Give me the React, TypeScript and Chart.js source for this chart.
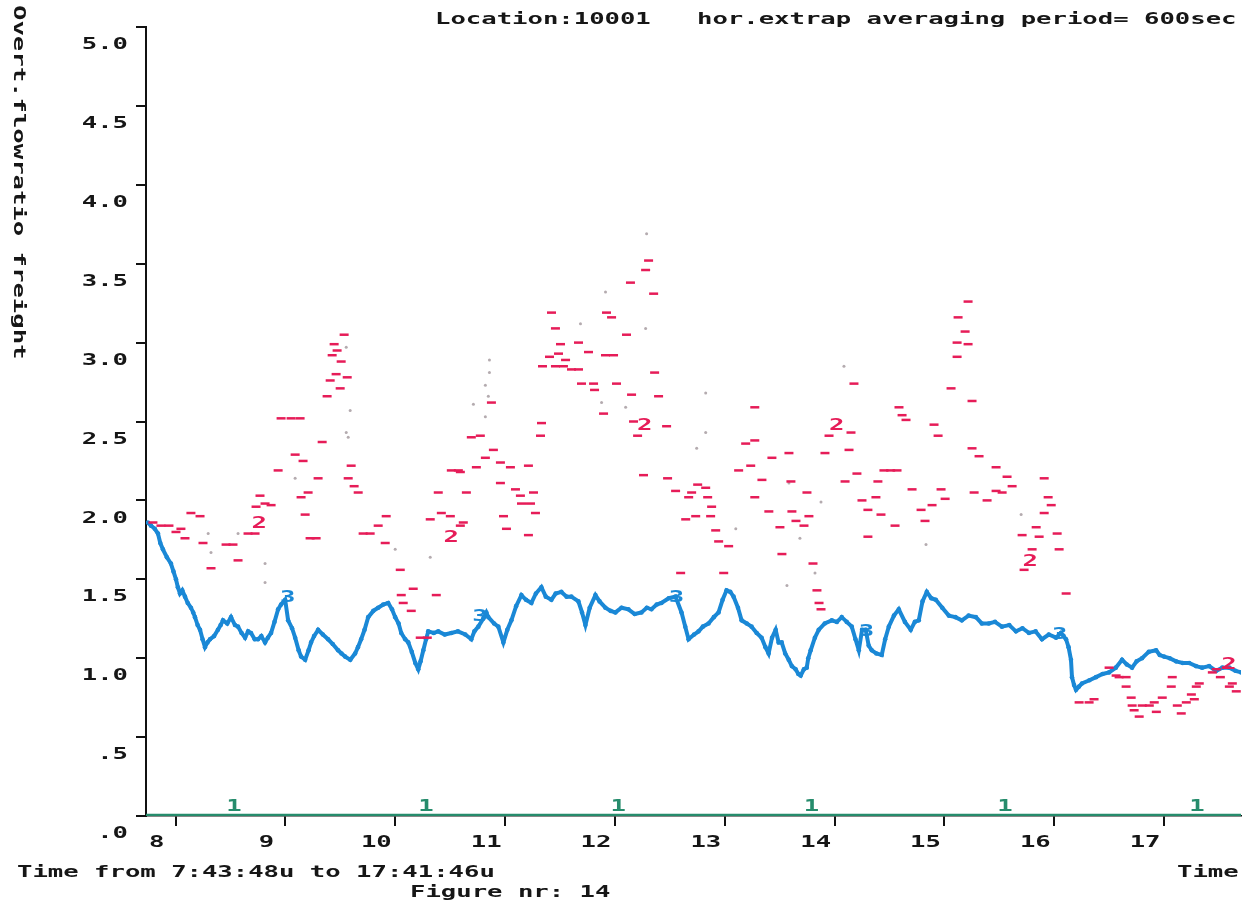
import React, { useEffect, useRef } from 'react';
import { Chart, registerables } from 'chart.js';

Chart.register(...registerables);

// ---- axis ticks / labels ----
const HOUR_TICKS = [8, 9, 10, 11, 12, 13, 14, 15, 16, 17];
const HOUR_LABELS = ['8', '9', '10', '11', '12', '13', '14', '15', '16', '17'];
const VALUE_TICKS = [0, 0.5, 1, 1.5, 2, 2.5, 3, 3.5, 4, 4.5, 5];
const VALUE_LABELS = ['.0', '.5', '1.0', '1.5', '2.0', '2.5', '3.0', '3.5', '4.0', '4.5', '5.0'];
const TIME_MIN = 7.73; // 7:43:48
const TIME_MAX = 17.70; // 17:41:46

const TITLE = 'Location:10001   hor.extrap averaging period= 600sec';
const Y_TITLE = 'Overt.flowratio freight';
const X_RANGE_TEXT = 'Time from 7:43:48u to 17:41:46u';
const FIGURE_TEXT = 'Figure nr: 14';
const X_TITLE = 'Time';

// ---- series 1 (green, near zero) ----
const S1_TIMES = [7.73, 8, 9, 10, 11, 12, 13, 14, 15, 16, 17, 17.7];
const S1_VALUES = [0.005, 0.005, 0.005, 0.005, 0.005, 0.005, 0.005, 0.005, 0.005, 0.005, 0.005, 0.005];
const S1_MARK_TIMES = [8.53, 10.28, 12.03, 13.79, 15.55, 17.3];

// ---- series 2 (red, scattered dashes) ----
const S2_TIMES = [
  7.793, 7.866, 7.939, 8.003, 8.048, 8.085, 8.139, 8.222, 8.249, 8.322, 8.459, 8.522, 8.568, 8.659, 8.723,
  8.732, 8.814, 8.869, 8.933, 8.768, 8.96, 9.051, 9.133, 9.088, 9.16, 9.179, 9.224, 9.279, 9.142, 9.206,
  9.297, 9.334, 9.379, 9.407, 9.425, 9.443, 9.461, 9.47, 9.498, 9.507, 9.534, 9.562, 9.598, 9.571, 9.625,
  9.662, 9.707, 9.771, 9.844, 9.917, 9.908, 10.045, 10.054, 10.072, 10.145, 10.163, 10.227, 10.291, 10.318,
  10.419, 10.501, 10.592, 10.619, 10.373, 10.391, 10.51, 10.574, 10.647, 10.592, 10.692, 10.774, 10.738,
  10.82, 10.875, 10.893, 10.957, 10.957, 10.985, 11.012, 11.048, 11.094, 11.139, 11.149, 11.231, 11.212,
  11.212, 11.258, 11.276, 11.322, 11.331, 11.34, 11.404, 11.422, 11.458, 11.458, 11.531, 11.486, 11.504,
  11.55, 11.604, 11.668, 11.668, 11.695, 11.805, 11.759, 11.814, 11.896, 11.914, 11.987, 11.923, 11.969,
  12.014, 12.105, 12.141, 12.151, 12.169, 12.206, 12.279, 12.306, 12.352, 12.361, 12.397, 12.47, 12.26,
  12.479, 12.552, 12.598, 12.644, 12.735, 12.671, 12.698, 12.753, 12.826, 12.844, 12.871, 12.88, 12.917,
  12.944, 13.035, 12.99, 13.126, 13.236, 13.19, 13.273, 13.273, 13.273, 13.338, 13.401, 13.429, 13.502,
  13.52, 13.584, 13.602, 13.611, 13.648, 13.721, 13.748, 13.766, 13.803, 13.839, 13.858, 13.876, 13.912,
  13.949, 14.095, 14.131, 14.149, 14.176, 14.203, 14.249, 14.303, 14.303, 14.376, 14.394, 14.422, 14.449,
  14.51, 14.568, 14.55, 14.586, 14.614, 14.65, 14.705, 14.787, 14.823, 14.887, 14.905, 14.942, 14.969,
  15.006, 15.06, 15.115, 15.115, 15.215, 15.124, 15.188, 15.215, 15.251, 15.251, 15.27, 15.315, 15.388,
  15.47, 15.47, 15.525, 15.57, 15.616, 15.707, 15.725, 15.835, 15.908, 15.944, 15.972, 15.908, 15.862,
  16.026, 15.798, 16.044, 16.108, 16.226, 16.317, 16.362, 16.499, 16.563, 16.59, 16.654, 16.654, 16.7,
  16.709, 16.727, 16.773, 16.801, 16.865, 16.91, 16.929, 16.983, 17.065, 17.074, 17.12, 17.156, 17.202,
  17.248, 17.275, 17.32, 17.439, 17.475, 17.566, 17.594, 17.621, 17.657, 17.512, 17.293,
];
const S2_VALUES = [
  1.86, 1.84, 1.84, 1.8, 1.82, 1.76, 1.92, 1.9, 1.73, 1.57, 1.72, 1.72, 1.62, 1.79, 1.79,
  1.96, 1.98, 1.97, 2.19, 2.03, 2.52, 2.52, 2.52, 2.29, 2.25, 1.91, 1.76, 1.76, 2.02, 2.05,
  2.14, 2.37, 2.66, 2.76, 2.92, 2.99, 2.8, 2.95, 2.71, 2.88, 3.05, 2.78, 2.22, 2.14, 2.09,
  2.05, 1.79, 1.79, 1.84, 1.9, 1.73, 1.56, 1.4, 1.35, 1.3, 1.44, 1.13, 1.13, 1.88,
  1.92, 1.9, 1.84, 1.86, 1.4, 2.05, 2.19, 2.19, 2.05, 2.18, 2.4, 2.41, 2.21,
  2.27, 2.62, 2.32, 2.24, 2.11, 1.9, 1.82, 2.21, 2.07, 2.03, 1.98, 1.98, 2.22,
  1.78, 2.05, 1.92, 2.41, 2.49, 2.85, 2.91, 3.19, 3.09, 2.85, 2.85, 2.93, 2.99,
  2.89, 2.83, 2.83, 3.0, 2.74, 2.74, 2.94, 2.7, 2.55, 2.92, 2.92, 3.19, 3.16,
  2.74, 3.05, 3.38, 2.67, 2.5, 2.41, 3.46, 3.52, 3.31, 2.81, 2.66, 2.47, 2.16,
  2.14, 2.06, 1.54, 1.88, 1.9, 2.02, 2.05, 2.1, 2.08, 2.02, 1.9, 1.96, 1.81,
  1.74, 1.71, 1.54, 2.19, 2.22, 2.36, 2.38, 2.02, 2.59, 2.13, 1.93, 2.27, 1.83,
  1.66, 2.3, 2.12, 1.93, 1.87, 1.84, 2.05, 1.9, 1.6, 1.43, 1.35, 1.31, 2.3,
  2.41, 2.12, 2.32, 2.43, 2.74, 2.17, 2.0, 1.94, 1.77, 2.02, 2.12, 1.91, 2.19,
  2.19, 2.19, 1.84, 2.59, 2.54, 2.51, 2.07, 1.94, 1.87, 1.97, 2.48, 2.41, 2.07,
  2.01, 2.71, 2.91, 3.0, 2.99, 3.16, 3.07, 3.26, 2.63, 2.33, 2.05, 2.28, 2.0,
  2.21, 2.06, 2.05, 2.15, 2.09, 1.78, 1.56, 1.83, 2.14, 2.02, 1.97, 1.92, 1.77,
  1.79, 1.69, 1.69, 1.41, 0.72, 0.72, 0.74, 0.94, 0.89, 0.88, 0.88, 0.82, 0.75,
  0.7, 0.67, 0.63, 0.7, 0.7, 0.72, 0.66, 0.75, 0.82, 0.88, 0.7, 0.65, 0.72,
  0.77, 0.74, 0.84, 0.91, 0.93, 0.94, 0.82, 0.84, 0.79, 0.88, 0.82,
];
const S2_MARK_TIMES = [8.76, 10.51, 12.27, 14.02, 15.78, 17.59];
const S2_MARK_VALUES = [1.85, 1.76, 2.47, 2.47, 1.61, 0.96];

// ---- faint grey measurement dots ----
const GREY_TIMES = [
  12.288, 11.914, 11.686, 12.279, 10.857, 10.857, 10.82, 10.847, 10.711, 10.82, 11.878, 12.097, 12.826,
  12.826, 12.744, 13.1, 14.085, 14.832, 15.698, 9.553, 9.589, 9.553, 9.571, 9.088, 10.318, 9.999, 8.568,
  8.296, 8.322, 8.814, 8.814, 13.584, 13.876, 13.566, 13.821, 13.684,
];
const GREY_VALUES = [
  3.69, 3.32, 3.12, 3.09, 2.89, 2.81, 2.73, 2.66, 2.61, 2.53, 2.62, 2.59, 2.68,
  2.43, 2.33, 1.82, 2.85, 1.72, 1.91, 2.97, 2.57, 2.43, 2.4, 2.14, 1.64, 1.69, 1.79,
  1.79, 1.67, 1.6, 1.48, 2.11, 1.99, 1.46, 1.54, 1.76,
];

// ---- series 3 (blue, continuous) ----
const S3_TIMES = [
  7.747, 7.775, 7.81, 7.839, 7.86, 7.884, 7.92, 7.957, 7.98, 8.003, 8.02, 8.039, 8.06, 8.085, 8.11, 8.139,
  8.16, 8.176, 8.2, 8.222, 8.245, 8.267, 8.29, 8.313, 8.35, 8.385, 8.41, 8.431, 8.47, 8.504, 8.54, 8.568,
  8.6, 8.632, 8.66, 8.686, 8.72, 8.75, 8.78, 8.814, 8.84, 8.869, 8.9, 8.933, 8.96, 8.997, 9.024, 9.06,
  9.088, 9.12, 9.142, 9.179, 9.21, 9.233, 9.26, 9.297, 9.34, 9.388, 9.43, 9.479, 9.51, 9.543, 9.59, 9.634,
  9.66, 9.689, 9.72, 9.753, 9.8, 9.844, 9.89, 9.935, 9.97, 9.999, 10.03, 10.054, 10.09, 10.118, 10.15,
  10.182, 10.209, 10.23, 10.255, 10.28, 10.3, 10.35, 10.391, 10.45, 10.51, 10.57, 10.637, 10.692, 10.72,
  10.756, 10.8, 10.829, 10.847, 10.9, 10.938, 10.984, 11.02, 11.057, 11.1, 11.148, 11.19, 11.239, 11.28,
  11.33, 11.37, 11.421, 11.46, 11.512, 11.56, 11.603, 11.667, 11.7, 11.731, 11.77, 11.822, 11.86, 11.913,
  11.96, 12.004, 12.06, 12.122, 12.18, 12.241, 12.29, 12.332, 12.38, 12.423, 12.49, 12.551, 12.606, 12.64,
  12.67, 12.72, 12.761, 12.8, 12.852, 12.9, 12.943, 12.98, 13.016, 13.05, 13.08, 13.12, 13.153, 13.2,
  13.244, 13.29, 13.335, 13.37, 13.399, 13.43, 13.463, 13.49, 13.518, 13.55, 13.582, 13.61, 13.645, 13.67,
  13.691, 13.72, 13.746, 13.76, 13.782, 13.82, 13.855, 13.91, 13.974, 14.02, 14.065, 14.11, 14.156, 14.19,
  14.22, 14.25, 14.283, 14.31, 14.338, 14.38, 14.429, 14.46, 14.493, 14.54, 14.584, 14.64, 14.693, 14.73,
  14.766, 14.8, 14.839, 14.88, 14.921, 14.98, 15.04, 15.1, 15.158, 15.22, 15.286, 15.34, 15.404, 15.46,
  15.523, 15.59, 15.651, 15.71, 15.769, 15.83, 15.888, 15.95, 16.016, 16.06, 16.107, 16.13, 16.152, 16.161,
  16.18, 16.198, 16.225, 16.252, 16.32, 16.38, 16.44, 16.499, 16.56, 16.617, 16.66, 16.708, 16.75, 16.799,
  16.86, 16.927, 16.96, 17.0, 17.05, 17.109, 17.17, 17.228, 17.29, 17.346, 17.41, 17.474, 17.53, 17.593,
  17.65, 17.702,
];
const S3_VALUES = [
  1.86, 1.84, 1.82, 1.79, 1.73, 1.69, 1.64, 1.6, 1.55, 1.5, 1.45, 1.41, 1.43, 1.39, 1.35, 1.32,
  1.29, 1.26, 1.21, 1.18, 1.12, 1.07, 1.1, 1.12, 1.14, 1.18, 1.21, 1.24, 1.22, 1.26, 1.21, 1.2,
  1.16, 1.13, 1.17, 1.16, 1.12, 1.12, 1.14, 1.1, 1.13, 1.16, 1.23, 1.31, 1.34, 1.37, 1.24, 1.19,
  1.13, 1.05, 1.01, 0.99, 1.05, 1.1, 1.14, 1.18, 1.15, 1.12, 1.09, 1.05, 1.03, 1.01, 0.99, 1.03,
  1.07, 1.12, 1.18, 1.26, 1.3, 1.32, 1.34, 1.35, 1.31, 1.26, 1.22, 1.16, 1.12, 1.1, 1.04,
  0.97, 0.93, 0.98, 1.05, 1.12, 1.17, 1.16, 1.17, 1.15, 1.16, 1.17, 1.15, 1.12, 1.17,
  1.2, 1.25, 1.29, 1.26, 1.22, 1.2, 1.1, 1.18, 1.24, 1.33, 1.4, 1.37, 1.35, 1.41,
  1.45, 1.39, 1.37, 1.41, 1.42, 1.39, 1.39, 1.36, 1.29, 1.21, 1.32, 1.4, 1.36, 1.32,
  1.3, 1.29, 1.32, 1.31, 1.28, 1.29, 1.32, 1.31, 1.34, 1.35, 1.38, 1.39, 1.29, 1.2,
  1.12, 1.15, 1.17, 1.2, 1.22, 1.26, 1.29, 1.37, 1.43, 1.42, 1.39, 1.32, 1.24, 1.22,
  1.2, 1.16, 1.13, 1.07, 1.03, 1.13, 1.18, 1.1, 1.1, 1.03, 0.99, 0.95, 0.93, 0.9,
  0.89, 0.93, 0.94, 1.0, 1.05, 1.13, 1.18, 1.22, 1.24, 1.23, 1.26, 1.23, 1.2, 1.12,
  1.05, 1.18, 1.18, 1.08, 1.05, 1.03, 1.02, 1.12, 1.2, 1.27, 1.31, 1.23, 1.18, 1.23,
  1.24, 1.36, 1.42, 1.38, 1.37, 1.32, 1.27, 1.26, 1.24, 1.27, 1.26, 1.22, 1.22, 1.23,
  1.2, 1.21, 1.17, 1.19, 1.16, 1.17, 1.12, 1.15, 1.13, 1.16, 1.12, 1.07, 0.99, 0.88,
  0.83, 0.8, 0.82, 0.84, 0.86, 0.88, 0.9, 0.91, 0.94, 0.99, 0.96, 0.94, 0.98, 1.0,
  1.04, 1.05, 1.02, 1.01, 1.0, 0.98, 0.97, 0.97, 0.95, 0.94, 0.95, 0.92, 0.94, 0.94,
  0.92, 0.91,
];
const S3_MARK_TIMES = [9.02, 10.77, 12.56, 14.29, 16.05];
const S3_MARK_VALUES = [1.38, 1.26, 1.38, 1.17, 1.15];

// ---- styling ----
const GREEN = 'rgb(38,140,108)';
const RED = 'rgb(230,28,88)';
const BLUE = 'rgb(26,136,214)';
const GREY = 'rgba(130,115,122,0.6)';
const INK = '#161616';
const FONT = "bold 16px 'DejaVu Sans Mono', 'Liberation Mono', monospace";
const STRETCH = 1.6;

function pts(ts: number[], vs: number[]) {
  return ts.map((t, i) => ({ x: t, y: vs[i] }));
}

function txt(ctx: CanvasRenderingContext2D, s: string, x: number, y: number, align: CanvasTextAlign = 'left', color = INK, rot = 0) {
  ctx.save();
  ctx.translate(x, y);
  if (rot) ctx.rotate(rot);
  ctx.scale(STRETCH, 1);
  ctx.font = FONT;
  ctx.fillStyle = color;
  ctx.textAlign = align;
  ctx.textBaseline = 'middle';
  ctx.fillText(s, 0, 0);
  ctx.restore();
}

const textPlugin = {
  id: 'oldPlotText',
  afterDraw(chart: any) {
    const ctx = chart.ctx as CanvasRenderingContext2D;
    const xs = chart.scales.x;
    const ys = chart.scales.y;
    txt(ctx, TITLE, 435, 20);
    txt(ctx, Y_TITLE, 18, 5, 'left', INK, Math.PI / 2);
    VALUE_TICKS.forEach((v, i) => txt(ctx, VALUE_LABELS[i], 128, ys.getPixelForValue(v) + 18, 'right'));
    HOUR_TICKS.forEach((h, i) => txt(ctx, HOUR_LABELS[i], xs.getPixelForValue(h) - 19, 843, 'center'));
    txt(ctx, X_RANGE_TEXT, 17, 873);
    txt(ctx, FIGURE_TEXT, 410, 893);
    txt(ctx, X_TITLE, 1177, 873);
    // series markers
    S1_MARK_TIMES.forEach((t) => txt(ctx, '1', xs.getPixelForValue(t), ys.getPixelForValue(S1_VALUES[0]) - 8, 'center', GREEN));
    S3_MARK_TIMES.forEach((t, i) => txt(ctx, '3', xs.getPixelForValue(t), ys.getPixelForValue(S3_MARK_VALUES[i]), 'center', BLUE));
    S2_MARK_TIMES.forEach((t, i) => txt(ctx, '2', xs.getPixelForValue(t), ys.getPixelForValue(S2_MARK_VALUES[i]), 'center', RED));
  },
};

export default function App() {
  const ref = useRef<HTMLCanvasElement | null>(null);

  useEffect(() => {
    if (!ref.current) return;
    const chart = new Chart(ref.current, {
      type: 'scatter',
      data: {
        datasets: [
          {
            label: '2',
            data: pts(S2_TIMES, S2_VALUES),
            showLine: false,
            pointStyle: 'line',
            pointRadius: 4.5,
            pointBorderWidth: 2.5,
            borderColor: RED,
            backgroundColor: RED,
            order: 0,
          },
          {
            label: '3',
            data: pts(S3_TIMES, S3_VALUES),
            showLine: true,
            borderColor: BLUE,
            backgroundColor: BLUE,
            borderWidth: 4,
            pointRadius: 2.3,
            pointBorderWidth: 0,
            tension: 0,
            order: 1,
          },
          {
            label: '1',
            data: pts(S1_TIMES, S1_VALUES),
            showLine: true,
            borderColor: GREEN,
            backgroundColor: GREEN,
            borderWidth: 3,
            pointRadius: 0,
            order: 2,
          },
          {
            label: 'points',
            data: pts(GREY_TIMES, GREY_VALUES),
            showLine: false,
            pointStyle: 'circle',
            pointRadius: 1.5,
            pointBorderWidth: 0,
            backgroundColor: GREY,
            borderColor: GREY,
            order: 3,
          },
        ],
      },
      options: {
        responsive: false,
        animation: false,
        devicePixelRatio: 1,
        layout: { padding: { top: 27, right: 12, left: 0, bottom: 0 } },
        plugins: {
          legend: { display: false },
          tooltip: { enabled: false },
          title: { display: false },
        },
        scales: {
          x: {
            type: 'linear',
            min: TIME_MIN,
            max: TIME_MAX,
            afterBuildTicks: (s: any) => {
              s.ticks = HOUR_TICKS.map((v) => ({ value: v }));
            },
            afterFit: (s: any) => {
              s.height = 91;
            },
            ticks: { display: false },
            grid: { drawOnChartArea: false, drawTicks: true, tickLength: 10, color: '#111', lineWidth: 2 },
            border: { display: true, color: '#111', width: 1.5 },
          },
          y: {
            type: 'linear',
            min: 0,
            max: 5,
            afterBuildTicks: (s: any) => {
              s.ticks = VALUE_TICKS.map((v) => ({ value: v }));
            },
            afterFit: (s: any) => {
              s.width = 146;
            },
            ticks: { display: false },
            grid: { drawOnChartArea: false, drawTicks: true, tickLength: 10, color: '#111', lineWidth: 2 },
            border: { display: true, color: '#111', width: 2 },
          },
        },
      },
      plugins: [textPlugin],
    } as any);
    return () => chart.destroy();
  }, []);

  return (
    <div style={{ position: 'absolute', left: 0, top: 0, width: 1253, height: 907, background: '#fff' }}>
      <canvas ref={ref} width={1253} height={907} style={{ display: 'block' }} />
    </div>
  );
}
